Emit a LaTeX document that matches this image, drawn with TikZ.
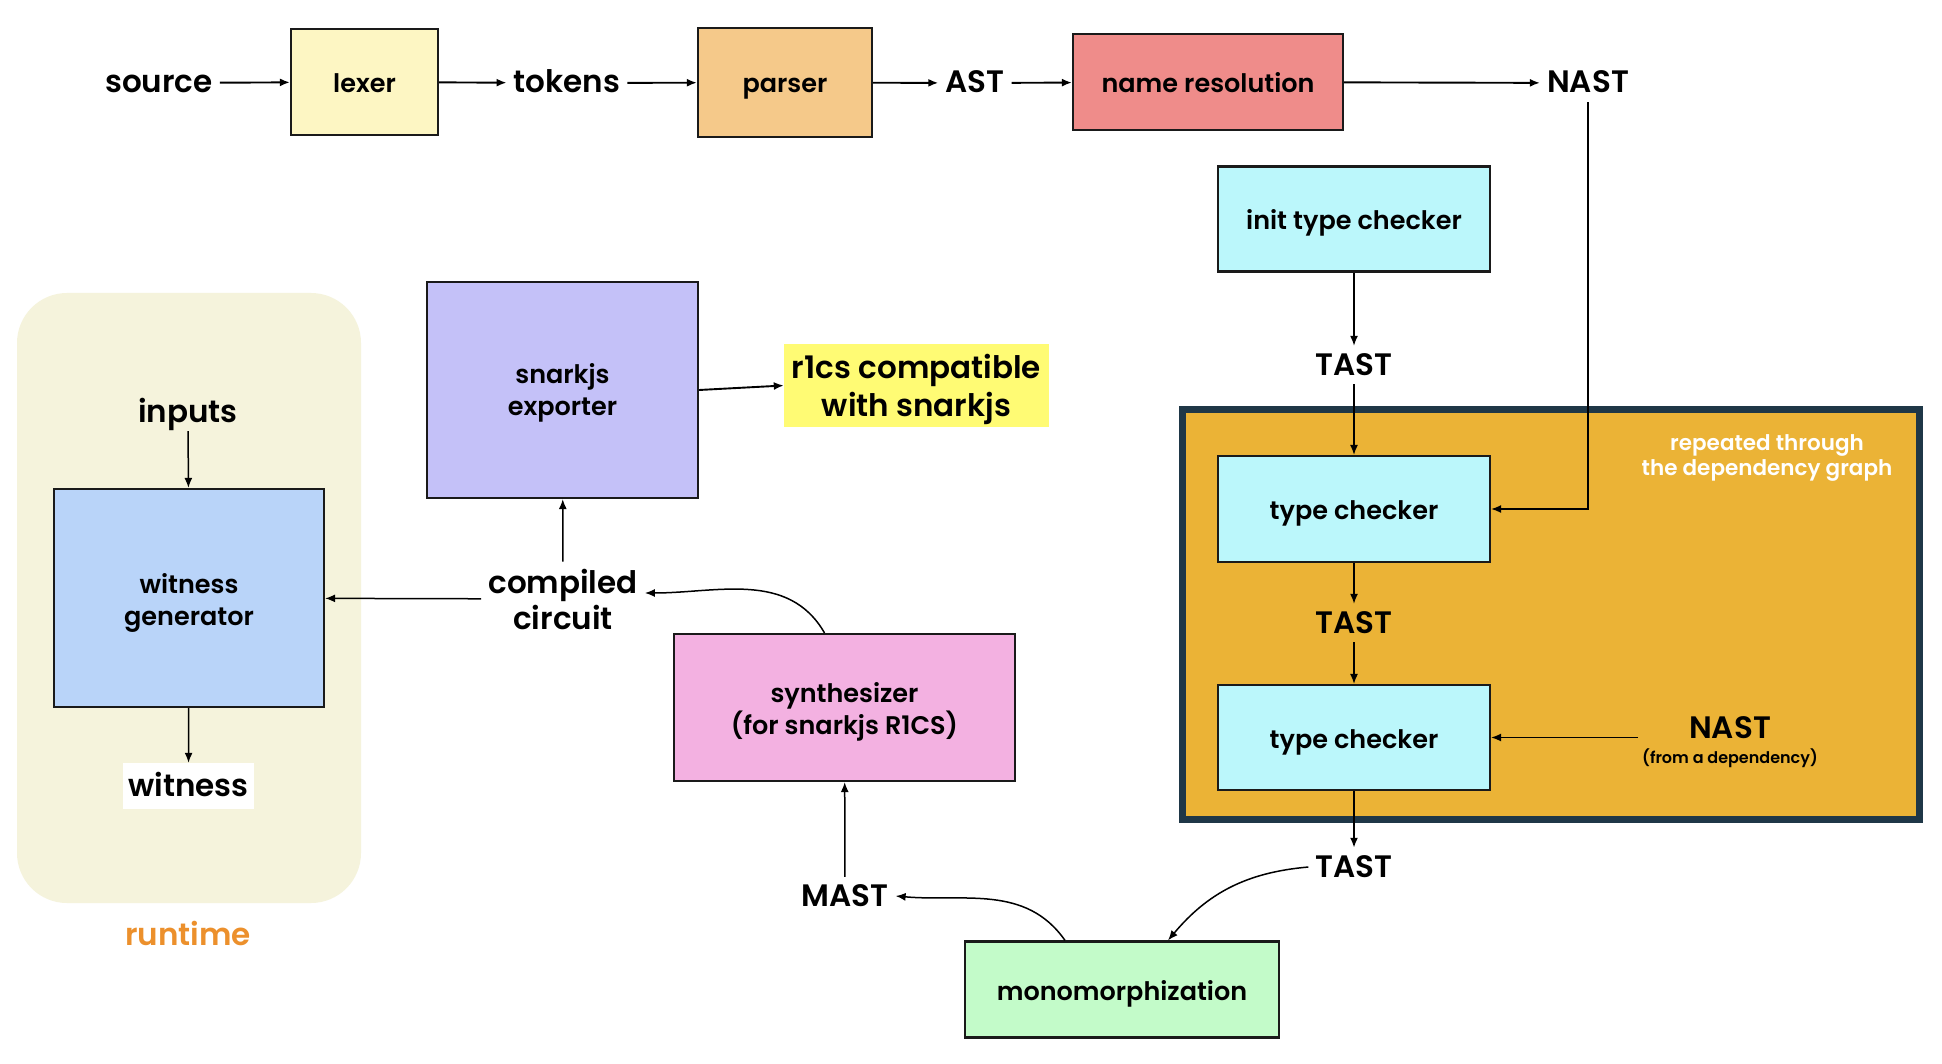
\documentclass[tikz,border=0pt]{standalone}
\usepackage{fontspec}
\setmainfont{Poppins}[UprightFont=* Medium, BoldFont=* SemiBold]
\usetikzlibrary{arrows.meta}
\definecolor{lexercol}{HTML}{FDF6C3}
\definecolor{parsercol}{HTML}{F5C98A}
\definecolor{namecol}{HTML}{EF8C8A}
\definecolor{cyancol}{HTML}{BBF7FB}
\definecolor{expcol}{HTML}{C4C1F8}
\definecolor{wgcol}{HTML}{B9D4F9}
\definecolor{synthcol}{HTML}{F3B1E1}
\definecolor{monocol}{HTML}{C3FBC9}
\definecolor{repcol}{HTML}{EBB336}
\definecolor{navycol}{HTML}{1F3747}
\definecolor{r1cscol}{HTML}{FFFB74}
\definecolor{rtbgcol}{HTML}{F5F3DC}
\definecolor{rtcol}{HTML}{EC902C}
\definecolor{boxline}{HTML}{1A1A1A}
\newcommand\myNodeFont{\fontsize{25.5}{32}\selectfont\bfseries}
\newcommand\myLblFont{\fontsize{31}{36}\selectfont\bfseries}
\begin{document}
\begin{tikzpicture}[x=1pt,y=1pt,
  box/.style={draw=boxline, line width=2.2pt, font=\myNodeFont, align=center, inner sep=0pt},
  one/.style={text height=23pt, text depth=2pt},
  btxt/.style={font=\myNodeFont, align=center, inner sep=0pt},
  lbl/.style={font=\myLblFont, inner sep=7pt, text height=22pt, text depth=2pt},
  lbltwo/.style={font=\myLblFont, inner sep=7pt, align=center},
  arr/.style={-{Latex[length=10pt,width=8pt]}, line width=1.9pt},
  arrt/.style={-{Latex[length=10pt,width=8pt]}, line width=1.5pt}]
\useasboundingbox[fill=white] (0,0) rectangle (1942,-1064);

% runtime background
\node[fill=rtbgcol, rounded corners=50pt, minimum width=344pt, minimum height=610pt, inner sep=0pt] (rt) at (189,-598) {};
\node[lbl, text=rtcol] (rtlbl) at (188,-935) {runtime};

% repeated box
\node[draw=navycol, fill=repcol, line width=7pt, minimum width=737pt, minimum height=410pt, inner sep=0pt] (rep) at (1551,-614.5) {};
\node[font=\fontsize{21.5}{25.5}\selectfont\bfseries, text=white, align=center, inner sep=0pt] (reptxt) at (1767,-458) {repeated through\\the dependency graph};

% top row
\node[lbl] (source) at (159,-83) {source};
\node[box, one, fill=lexercol, minimum width=147pt, minimum height=106pt] (lexer) at (364.5,-82) {lexer};
\node[lbl] (tokens) at (567,-83) {tokens};
\node[box, one, fill=parsercol, minimum width=174pt, minimum height=109pt] (parser) at (785,-82.5) {parser};
\node[lbl] (ast) at (975,-83) {AST};
\node[box, one, fill=namecol, minimum width=270pt, minimum height=96pt] (name) at (1208,-82) {name resolution};
\node[lbl] (nast) at (1588,-83) {NAST};

% type checking column
\node[box, one, fill=cyancol, minimum width=272pt, minimum height=105pt] (itc) at (1354,-219) {init type checker};
\node[lbl] (tast1) at (1354,-365) {TAST};
\node[box, one, fill=cyancol, minimum width=272pt, minimum height=106pt] (tc1) at (1354,-509) {type checker};
\node[lbl] (tast2) at (1354,-623) {TAST};
\node[box, one, fill=cyancol, minimum width=272pt, minimum height=105pt] (tc2) at (1354,-737.5) {type checker};
\node[font=\myLblFont, align=center, inner sep=4pt] (nastdep) at (1730,-742.5) {NAST\\[-11pt]{\fontsize{16}{19}\selectfont (from a dependency)}};
\node[lbl] (tast3) at (1354,-867) {TAST};

% lower part
\node[box, one, fill=monocol, minimum width=314pt, minimum height=96pt] (mono) at (1122,-989.5) {monomorphization};
\node[lbl] (mast) at (845,-896) {MAST};
\node[box, fill=synthcol, minimum width=341pt, minimum height=147pt,
  label={[btxt, yshift=-4pt]center:synthesizer\\(for snarkjs R1CS)}] (synth) at (844.5,-707.5) {};
\node[lbltwo] (cc) at (563,-599) {compiled\\circuit};
\node[box, fill=expcol, minimum width=271pt, minimum height=216pt,
  label={[btxt, yshift=-3pt]center:snarkjs\\exporter}] (exp) at (562.5,-390) {};
\node[fill=r1cscol, minimum width=265pt, minimum height=83pt, inner sep=0pt,
  label={[font=\fontsize{31}{37.5}\selectfont\bfseries, align=center, inner sep=0pt, yshift=-4pt]center:r1cs compatible\\with snarkjs}] (r1cs) at (916.5,-385.5) {};

% runtime part
\node[lbl] (inputs) at (188,-412) {inputs};
\node[box, fill=wgcol, minimum width=270pt, minimum height=218pt,
  label={[btxt, yshift=-4.5pt]center:witness\\generator}] (wg) at (189,-598) {};
\node[lbl, fill=white, minimum width=131pt, minimum height=46pt, inner sep=0pt] (witness) at (188.5,-786) {witness};

% connectors
\draw[arr] (source) -- (lexer);
\draw[arr] (lexer) -- (tokens);
\draw[arr] (tokens) -- (parser);
\draw[arr] (parser) -- (ast);
\draw[arr] (ast) -- (name);
\draw[arr] (name) -- (nast);
\draw[arrt] (nast.south) |- (tc1.east);
\draw[arrt] (itc) -- (tast1);
\draw[arrt] (tast1) -- (tc1);
\draw[arrt] (tc1) -- (tast2);
\draw[arrt] (tast2) -- (tc2);
\draw[arrt] (nastdep.west |- tc2.east) -- (tc2.east);
\draw[arr] (tc2) -- (tast3);
\draw[arrt] (tast3.west) to[out=185,in=50] ([xshift=46pt]mono.north);
\draw[arrt] ([xshift=-57pt]mono.north) to[out=125,in=-5] (mast.east);
\draw[arrt] (mast) -- (synth);
\draw[arrt] ([xshift=-20pt]synth.north) to[out=120,in=0] ([yshift=6pt]cc.east);
\draw[arrt] (cc) -- (exp);
\draw[arrt] (cc) -- (wg);
\draw[arr] (exp.east) -- (r1cs.west);
\draw[arrt] (inputs) -- (wg);
\draw[arrt] (wg) -- (witness);
\end{tikzpicture}
\end{document}
